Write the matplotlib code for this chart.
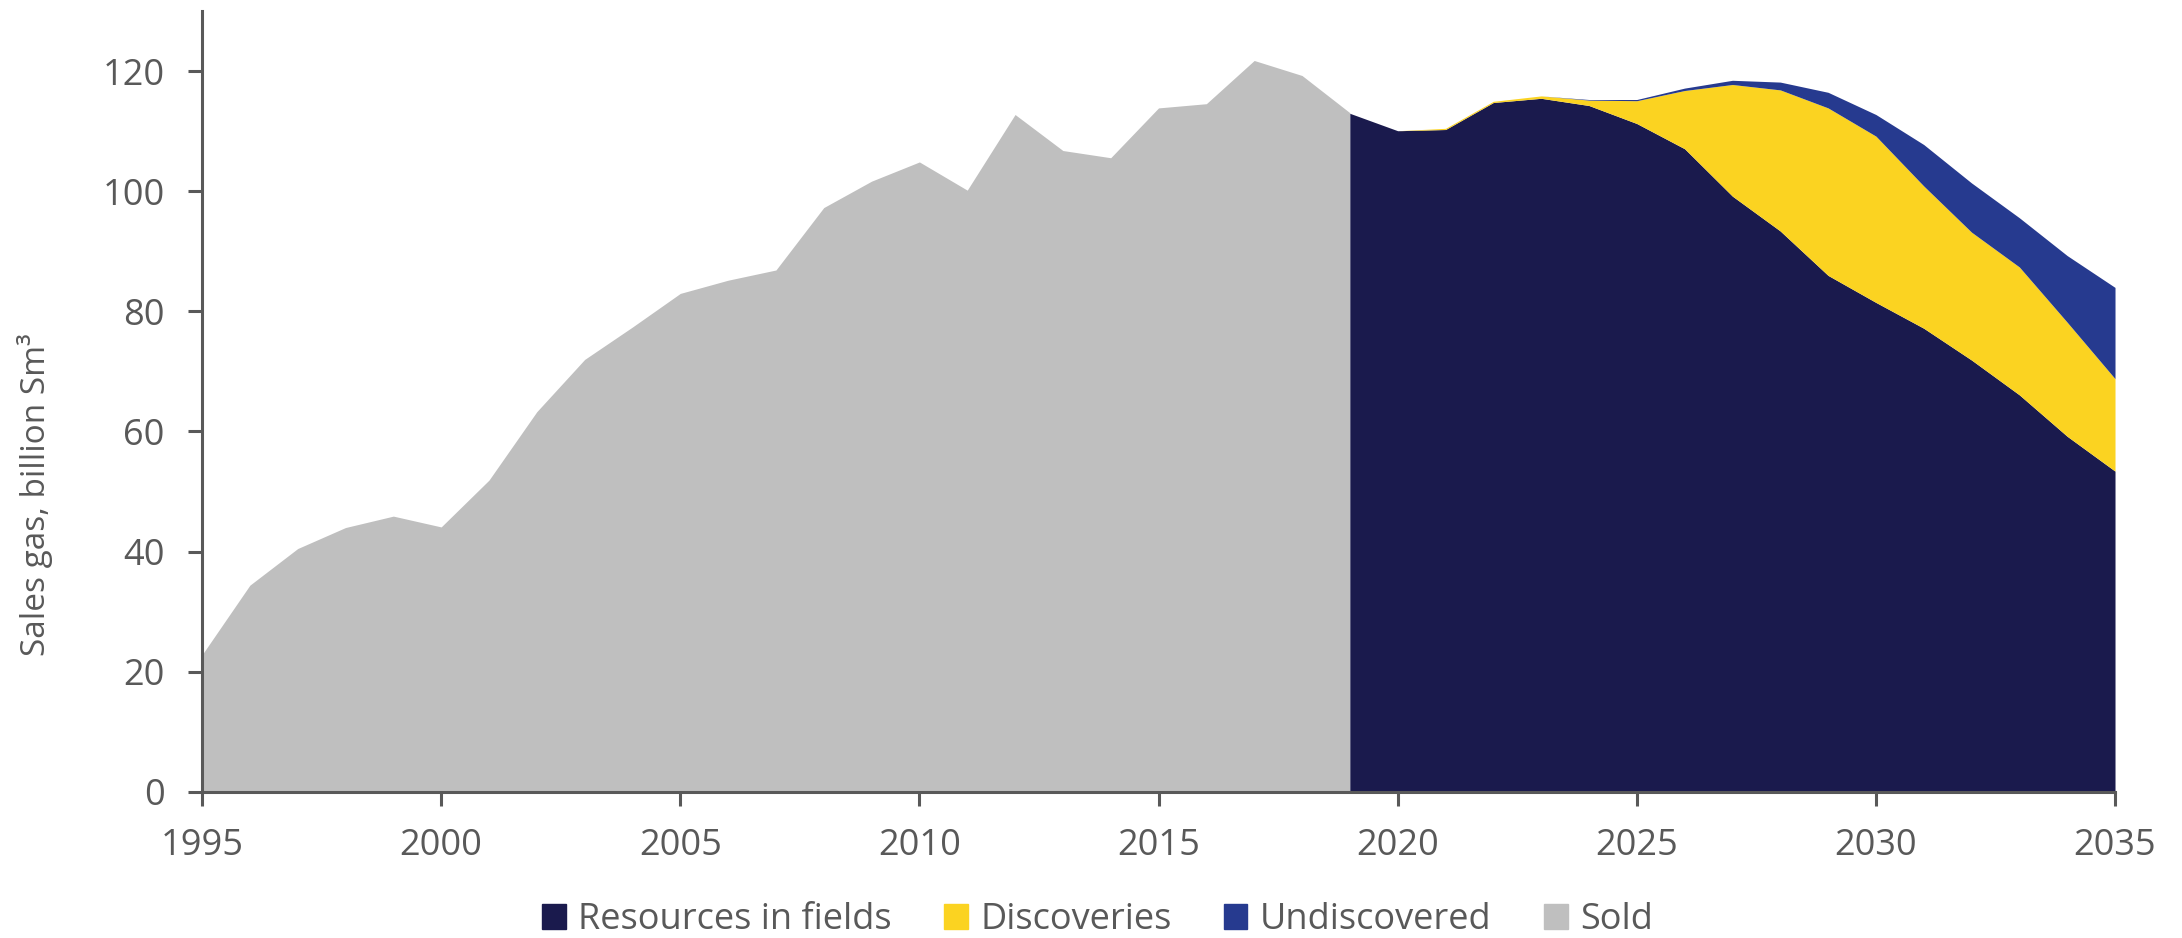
import numpy as np
import matplotlib.pyplot as plt
from matplotlib.patches import Patch

# historic sales (1995-2019)
sold_years = list(range(1995, 2020))
sold = [22.8, 34.4, 40.5, 44.0, 45.9, 44.1, 51.9, 63.3, 72.0, 77.4,
        83.0, 85.2, 86.9, 97.3, 101.7, 104.9, 100.2, 112.8, 106.8, 105.6,
        113.9, 114.6, 121.8, 119.3, 113.1]

# forecast (2019-2035)
fc_years = list(range(2019, 2036))
resources = [113.0, 110.1, 110.3, 114.8, 115.5, 114.3, 111.3, 107.1, 99.2,
             93.4, 86.0, 81.5, 77.2, 71.9, 66.1, 59.2, 53.4]
discoveries = [0.0, 0.0, 0.2, 0.2, 0.4, 0.9, 3.8, 9.7, 18.6, 23.5, 27.9,
               27.7, 23.7, 21.3, 21.3, 19.0, 15.4]
undiscovered = [0.0, 0.0, 0.0, 0.0, 0.0, 0.1, 0.2, 0.4, 0.7, 1.3, 2.6,
                3.6, 6.9, 8.2, 8.2, 11.1, 15.2]

c_res = '#1a1a4d'
c_disc = '#fbd321'
c_undisc = '#263a8f'
c_sold = '#bfbfbf'
grey = '#595959'

plt.rcParams['font.family'] = ['Open Sans', 'DejaVu Sans']

fig = plt.figure(figsize=(21.82, 9.38), dpi=100)
ax = fig.add_axes([0.0926, 0.156, 0.8767, 0.832])

r = np.array(resources)
d = r + np.array(discoveries)
u = d + np.array(undiscovered)

ax.fill_between(sold_years, 0, sold, color=c_sold, linewidth=0)
ax.fill_between(fc_years, 0, r, color=c_res, linewidth=0)
ax.fill_between(fc_years, r, d, color=c_disc, linewidth=0)
ax.fill_between(fc_years, d, u, color=c_undisc, linewidth=0)

ax.set_xlim(1995, 2035)
ax.set_ylim(0, 130)
ax.set_xticks(range(1995, 2036, 5))
ax.set_yticks(range(0, 121, 20))

for s in ['top', 'right']:
    ax.spines[s].set_visible(False)
for s in ['left', 'bottom']:
    ax.spines[s].set_color(grey)
    ax.spines[s].set_linewidth(2.2)
ax.tick_params(axis='both', colors=grey, labelsize=26, width=2.2, length=10)
ax.tick_params(axis='x', pad=16)
ax.tick_params(axis='y', pad=17)

ax.set_ylabel('Sales gas, billion Sm³', fontsize=24, color=grey)
ax.yaxis.set_label_coords(-0.078, 0.38)

handles = [Patch(color=c_res, label='Resources in fields'),
           Patch(color=c_disc, label='Discoveries'),
           Patch(color=c_undisc, label='Undiscovered'),
           Patch(color=c_sold, label='Sold')]
leg = fig.legend(handles=handles, loc='center', ncol=4,
                 bbox_to_anchor=(0.503, 0.019), frameon=False,
                 handlelength=0.65, handleheight=0.65, handletextpad=0.35,
                 columnspacing=1.45, prop={'size': 26})
for t in leg.get_texts():
    t.set_color(grey)

plt.savefig('out.png', dpi=100)
